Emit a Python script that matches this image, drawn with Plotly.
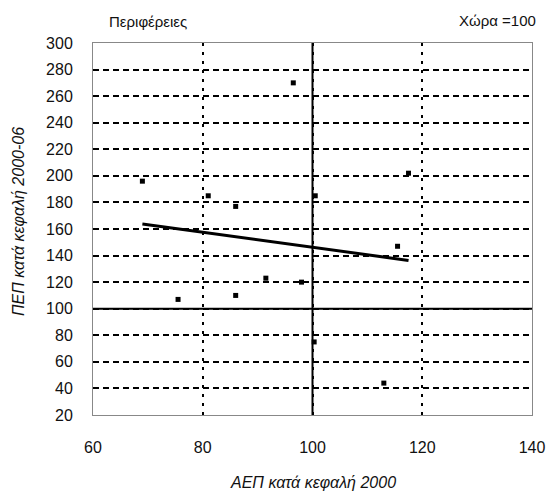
import numpy as np
import plotly.graph_objects as go

# GDP per capita 2000 (country = 100) and growth index 2000-06, 13 regions
gdp_2000 = [69, 75.5, 81, 86, 86, 91.5, 96.5, 98, 100.3, 100.5, 113, 115.5, 117.5]
gdp_growth = [196, 107, 185, 177, 110, 123, 270, 120, 75, 185, 44, 147, 202]

x_ticks = [60, 80, 100, 120, 140]
y_ticks = list(range(20, 301, 20))

slope, intercept = np.polyfit(gdp_2000, gdp_growth, 1)
fx = np.array([min(gdp_2000), max(gdp_2000)])
fy = slope * fx + intercept

font = "Liberation Sans, Arial, sans-serif"
tc = "#111111"

fig = go.Figure()
fig.add_trace(go.Scatter(x=gdp_2000, y=gdp_growth, mode="markers",
                         marker=dict(symbol="square", size=5, color="black"),
                         showlegend=False, hoverinfo="x+y"))
fig.add_trace(go.Scatter(x=fx, y=fy, mode="lines",
                         line=dict(color="black", width=3),
                         showlegend=False))

fig.add_shape(type="line", xref="x", yref="y", x0=100, x1=100, y0=20, y1=300,
              line=dict(color="black", width=2), layer="below")
fig.add_shape(type="line", xref="x", yref="y", x0=60, x1=140, y0=100, y1=100,
              line=dict(color="black", width=2), layer="below")

fig.update_xaxes(range=[60, 140], tickvals=x_ticks, ticktext=[str(v) for v in x_ticks],
                 showgrid=True, gridcolor="black", gridwidth=2, griddash="3px,6px",
                 zeroline=False, showline=True, linecolor="#888888", linewidth=1, mirror=True,
                 ticks="", ticklabelstandoff=18, automargin=False,
                 tickfont=dict(family=font, size=16, color=tc))
fig.update_yaxes(range=[20, 300], tickvals=y_ticks, ticktext=[str(v) for v in y_ticks],
                 showgrid=True, gridcolor="black", gridwidth=2, griddash="6px,4px",
                 zeroline=False, showline=True, linecolor="#888888", linewidth=1, mirror=True,
                 ticks="", ticklabelstandoff=16, automargin=False,
                 tickfont=dict(family=font, size=16, color=tc))

# axis titles
fig.add_annotation(text="<i>ΑΕΠ κατά κεφαλή 2000</i>", xref="paper", yref="paper",
                   x=0.5, y=0, yanchor="middle", yshift=-67, showarrow=False,
                   font=dict(family=font, size=16, color=tc))
fig.add_annotation(text="<i>ΠΕΠ κατά κεφαλή 2000-06</i>", xref="paper", yref="paper",
                   x=0, y=0.5, xanchor="center", yanchor="middle", xshift=-75, yshift=7,
                   textangle=-90, showarrow=False,
                   font=dict(family=font, size=16, color=tc))

fig.add_annotation(text="Περιφέρειες", xref="paper", yref="paper", x=0.0, y=1.0,
                   xanchor="left", yanchor="middle", xshift=14, yshift=22, showarrow=False,
                   font=dict(family=font, size=15, color=tc))
fig.add_annotation(text="Χώρα =100", xref="paper", yref="paper", x=1.0, y=1.0,
                   xanchor="right", yanchor="middle", xshift=6, yshift=23, showarrow=False,
                   font=dict(family=font, size=15, color=tc))

fig.update_layout(width=549, height=493, margin=dict(l=93, r=17, t=43, b=78),
                  plot_bgcolor="white", paper_bgcolor="white", showlegend=False)

fig.write_html("out.html", config={"displayModeBar": False},
               post_script="document.body.style.margin='0';")
